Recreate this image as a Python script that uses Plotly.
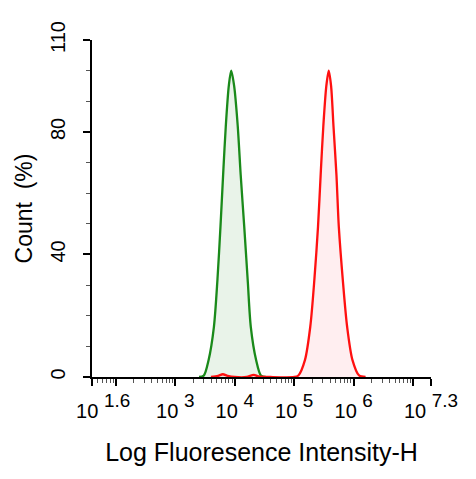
import plotly.graph_objects as go

# Histogram outlines (x as log10 of intensity, y as count %)
green_log = [3.40, 3.48, 3.56, 3.65, 3.71, 3.76, 3.81, 3.85, 3.90, 3.94, 3.99, 4.05, 4.10, 4.16, 4.22, 4.27, 4.36, 4.44, 4.52]
green_count = [0, 0.5, 5.5, 16.4, 32, 49, 68, 82, 95, 100, 95, 82, 66, 49, 31, 16.4, 5.5, 0.5, 0]

red_log = [3.60, 3.72, 3.80, 3.88, 4.00, 4.20, 4.32, 4.40, 4.60, 5.00, 5.07, 5.18, 5.27, 5.34, 5.40, 5.45, 5.49, 5.54, 5.58,
           5.62, 5.66, 5.71, 5.75, 5.82, 5.89, 5.98, 6.09, 6.20]
red_count = [0, 0.4, 0.9, 0.4, 0, 0, 0.7, 0.2, 0, 0, 0.5, 5.5, 16.4, 32, 49, 68, 82, 95, 100,
             95, 82, 66, 49, 31, 16.4, 5.5, 0.5, 0]

x_tick_exp = [1.6, 2, 3, 4, 5, 6, 7, 7.3]
x_tick_sup = ["1.6", "", "3", "4", "5", "6", "", "7.3"]
y_ticks = [0, 40, 80, 110]


def pow_label(sup, pad=""):
    if not sup:
        return ""
    # bigger wrapper font -> superscript drawn at ~19px and raised further
    return pad + "10 <span style='font-size:27px'><sup>" + sup + "</sup></span>"


green_x = [10 ** v for v in green_log]
red_x = [10 ** v for v in red_log]

fig = go.Figure()
fig.add_trace(go.Scatter(
    x=green_x, y=green_count, mode="lines",
    line=dict(color="#1a8a1a", width=2.3, shape="spline", smoothing=0.8),
    fill="tozeroy", fillcolor="rgba(40,140,40,0.10)",
))
fig.add_trace(go.Scatter(
    x=red_x, y=red_count, mode="lines",
    line=dict(color="#ff1010", width=2.3, shape="spline", smoothing=0.8),
    fill="tozeroy", fillcolor="rgba(255,70,90,0.09)",
))

minor_x = [k * 10 ** d for d in range(1, 8) for k in range(2, 10)
           if 10 ** 1.6 < k * 10 ** d < 10 ** 7.3]

labels = [pow_label(s) for s in x_tick_sup]
labels[0] = pow_label(x_tick_sup[0], pad="\u00a0" * 4)

fig.update_layout(
    width=476, height=479,
    margin=dict(l=84, r=53, t=32, b=110),
    paper_bgcolor="white", plot_bgcolor="white",
    showlegend=False,
    font=dict(family="Liberation Sans, Arial, sans-serif", color="black"),
    xaxis=dict(
        type="log", range=[1.6, 7.3],
        tickvals=[10 ** v for v in x_tick_exp], ticktext=labels,
        ticks="outside", ticklen=7, tickwidth=1.5, tickcolor="black",
        minor=dict(tickvals=minor_x, ticks="outside", ticklen=4, tickcolor="#555555", tickwidth=1),
        showline=True, linecolor="black", linewidth=2,
        showgrid=False, zeroline=False,
        tickfont=dict(size=20), ticklabelstandoff=8,
        title=dict(text="Log Fluoresence Intensity-H", font=dict(size=25), standoff=22),
    ),
    yaxis=dict(
        range=[0, 110],
        tickvals=y_ticks, tickangle=-90,
        ticks="outside", ticklen=7, tickwidth=1.5, tickcolor="black",
        minor=dict(dtick=10, ticks="outside", ticklen=4, tickcolor="#555555", tickwidth=1),
        showline=True, linecolor="black", linewidth=2,
        showgrid=False, zeroline=False,
        tickfont=dict(size=20), ticklabelstandoff=10,
        title=dict(text="Count  (%)", font=dict(size=23), standoff=8),
    ),
)

fig.write_html("out.html")
